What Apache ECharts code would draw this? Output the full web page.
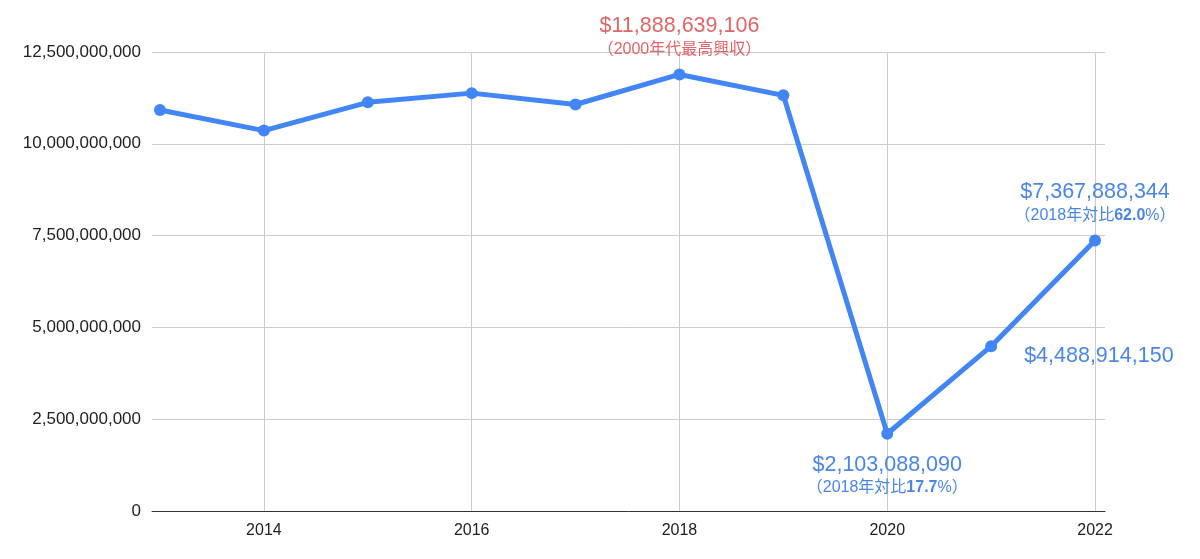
<!DOCTYPE html>
<html>
<head>
<meta charset="utf-8">
<script src="https://cdn.jsdelivr.net/npm/echarts@6/dist/echarts.min.js"></script>
<style>
  html, body { margin: 0; padding: 0; background: #fff; }
  #chart { width: 1200px; height: 559px; }
</style>
</head>
<body>
<div id="chart"></div>
<script>
// 年別興行収入（ドル）
var years = [2013, 2014, 2015, 2016, 2017, 2018, 2019, 2020, 2021, 2022];
var revenue = [10920000000, 10360000000, 11130000000, 11380000000, 11070000000,
               11888639106, 11320000000, 2103088090, 4488914150, 7367888344];
var yearTicks = [2014, 2016, 2018, 2020, 2022];
var yTicks = [0, 2500000000, 5000000000, 7500000000, 10000000000, 12500000000];

// 注記: 補足テキスト, 太字部分
var notes = {
    2018: { pre: '（2000年代最高興収）', bold: '', post: '' },
    2020: { pre: '（2018年対比', bold: '17.7', post: '%）' },
    2021: null,
    2022: { pre: '（2018年対比', bold: '62.0', post: '%）' }
};

var FONT = '"Liberation Sans", Arial, "Noto Sans CJK JP", sans-serif';
var BLUE = '#4285f4';
var LBLUE = '#4a86e8';
var RED = '#e06666';

function money(v) {
    return '$' + v.toLocaleString('en-US');
}

function makeLabel(year, value) {
    var n = notes[year];
    var color = year === 2018 ? RED : LBLUE;
    var rich = {
        v: { fontSize: 21.5, color: color, fontFamily: FONT, lineHeight: 24 },
        s: { fontSize: 16, color: color, fontFamily: FONT, lineHeight: 22 },
        b: { fontSize: 16, color: color, fontFamily: FONT, lineHeight: 22, fontWeight: 'bold' }
    };
    var text = '{v|' + money(value) + '}';
    if (n) {
        text += '\n{s|' + n.pre + '}';
        if (n.bold) text += '{b|' + n.bold + '}{s|' + n.post + '}';
    }
    var lbl = { show: true, formatter: text, rich: rich, align: 'center' };
    if (year === 2018 || year === 2022) {
        lbl.position = 'top';
        lbl.distance = 8;
    } else if (year === 2020) {
        lbl.position = 'bottom';
        lbl.distance = 13;
    } else {
        lbl.position = 'right';
        lbl.distance = 27;
        lbl.align = 'left';
        lbl.offset = [0, 10];
    }
    return lbl;
}

var seriesData = years.map(function (y, i) {
    var item = { value: [y, revenue[i]] };
    if (y in notes) item.label = makeLabel(y, revenue[i]);
    return item;
});

var myChart = echarts.init(document.getElementById('chart'), null, { renderer: 'canvas' });
var option = {
    backgroundColor: '#fff',
    animation: false,
    grid: { left: 152, right: 95, top: 52, bottom: 48 },
    xAxis: {
        type: 'value',
        min: 2012.923,
        max: 2022.096,
        axisLine: { show: true, onZero: false, lineStyle: { color: '#333', width: 1 } },
        axisTick: { show: false, customValues: yearTicks },
        axisLabel: {
            customValues: yearTicks,
            color: '#222',
            fontSize: 16,
            fontFamily: FONT,
            margin: 12,
            formatter: function (v) { return String(v); }
        },
        splitLine: { show: true, lineStyle: { color: '#cccccc', width: 1 } }
    },
    yAxis: {
        type: 'value',
        min: 0,
        max: 12500000000,
        interval: 2500000000,
        axisLine: { show: false },
        axisTick: { show: false },
        axisLabel: {
            color: '#222',
            fontSize: 17,
            fontFamily: FONT,
            margin: 11,
            formatter: function (v) { return yTicks.indexOf(v) >= 0 ? v.toLocaleString('en-US') : ''; }
        },
        splitLine: { show: true, lineStyle: { color: '#cccccc', width: 1 } }
    },
    series: [{
        type: 'line',
        data: seriesData,
        symbol: 'circle',
        symbolSize: 12,
        lineStyle: { color: BLUE, width: 5 },
        itemStyle: { color: BLUE },
        label: { show: false },
        z: 3
    }]
};
myChart.setOption(option);
</script>
</body>
</html>
